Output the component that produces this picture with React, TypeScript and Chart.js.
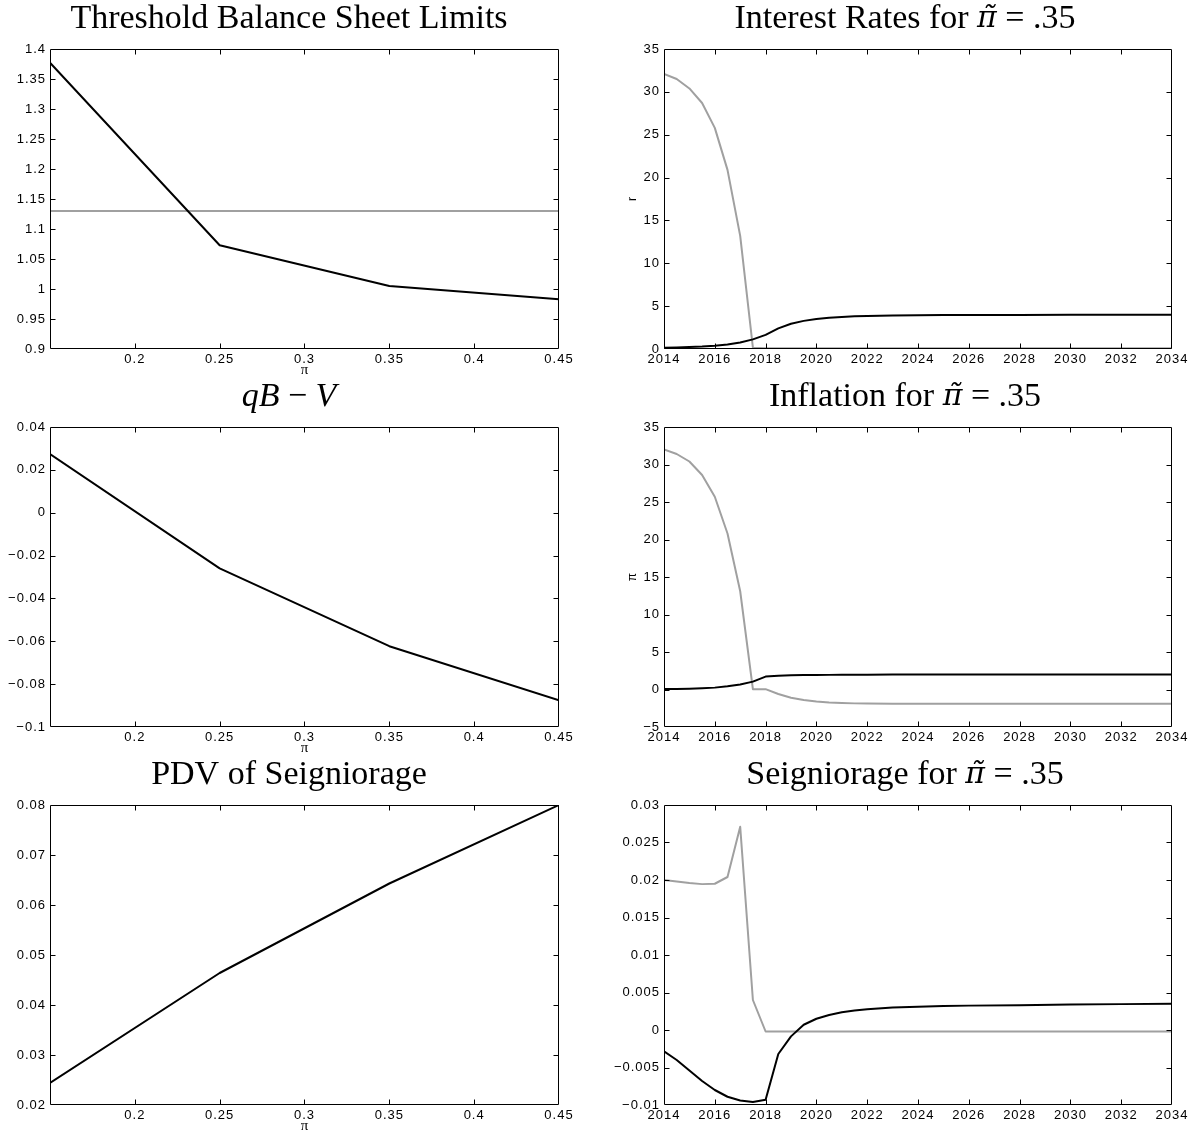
import React, { useEffect, useRef } from 'react';
import { Chart, registerables } from 'chart.js';

Chart.register(...registerables);

// ---------- data ----------
const piGrid = [0.15, 0.25, 0.35, 0.45];
const thresholdLimit = [1.377, 1.073, 1.005, 0.983];
const thresholdRef = [1.13, 1.13, 1.13, 1.13];
const qbMinusV = [0.0274, -0.026, -0.0623, -0.0875];
const pdvSeigniorage = [0.0244, 0.0464, 0.0643, 0.08];

const years = [2014, 2014.5, 2015, 2015.5, 2016, 2016.5, 2017, 2017.5, 2018, 2018.5, 2019, 2019.5, 2020, 2020.5, 2021, 2021.5, 2022, 2023, 2024, 2025, 2026, 2028, 2030, 2032, 2034];
const rateBlack = [0.15, 0.17, 0.22, 0.28, 0.38, 0.52, 0.76, 1.12, 1.65, 2.4, 2.95, 3.28, 3.5, 3.64, 3.74, 3.81, 3.86, 3.92, 3.95, 3.96, 3.97, 3.98, 3.99, 3.99, 4.0];
const rateGrey = [32.1, 31.5, 30.4, 28.7, 25.8, 20.9, 13.2, 0.15, 0.1, 0.1, 0.1, 0.1, 0.1, 0.1, 0.1, 0.1, 0.1, 0.1, 0.1, 0.1, 0.1, 0.1, 0.1, 0.1, 0.1];
const inflBlack = [0.05, 0.07, 0.1, 0.16, 0.25, 0.42, 0.68, 1.05, 1.72, 1.83, 1.89, 1.92, 1.94, 1.95, 1.96, 1.97, 1.98, 1.99, 2.0, 2.0, 2.0, 2.0, 2.0, 2.0, 2.0];
const inflGrey = [32.0, 31.4, 30.4, 28.6, 25.7, 20.8, 13.1, 0.05, 0.05, -0.6, -1.1, -1.4, -1.6, -1.72, -1.8, -1.85, -1.88, -1.9, -1.9, -1.9, -1.9, -1.9, -1.9, -1.9, -1.9];
const seigBlack = [-0.00285, -0.004, -0.0054, -0.0068, -0.008, -0.0089, -0.0094, -0.0096, -0.0093, -0.0032, -0.00085, 0.0007, 0.0015, 0.002, 0.00236, 0.0026, 0.00276, 0.003, 0.0031, 0.0032, 0.00325, 0.0033, 0.0034, 0.00345, 0.0035];
const seigGrey = [0.02, 0.0198, 0.0196, 0.01945, 0.0195, 0.0204, 0.0271, 0.004, -0.0002, -0.0002, -0.0002, -0.0002, -0.0002, -0.0002, -0.0002, -0.0002, -0.0002, -0.0002, -0.0002, -0.0002, -0.0002, -0.0002, -0.0002, -0.0002, -0.0002];

// ---------- tick values ----------
const piTicks = [0.2, 0.25, 0.3, 0.35, 0.4, 0.45];
const yearTicks = [2014, 2016, 2018, 2020, 2022, 2024, 2026, 2028, 2030, 2032, 2034];
const thresholdTicks = [0.9, 0.95, 1, 1.05, 1.1, 1.15, 1.2, 1.25, 1.3, 1.35, 1.4];
const rateTicks = [0, 5, 10, 15, 20, 25, 30, 35];
const qbTicks = [-0.1, -0.08, -0.06, -0.04, -0.02, 0, 0.02, 0.04];
const inflTicks = [-5, 0, 5, 10, 15, 20, 25, 30, 35];
const pdvTicks = [0.02, 0.03, 0.04, 0.05, 0.06, 0.07, 0.08];
const seigTicks = [-0.01, -0.005, 0, 0.005, 0.01, 0.015, 0.02, 0.025, 0.03];

const BLACK = '#000000';
const GREY = '#a0a0a0';

// title text pieces (math parts in italic)
type Seg = { t: string; italic?: boolean; math?: boolean };
const PI_TILDE: Seg = { t: 'π̃', italic: true, math: true };

type Series = { xs: number[]; ys: number[]; color: string };
type Panel = {
  key: string;
  title: Seg[];
  col: number;
  row: number;
  xMin: number;
  xMax: number;
  xTicks: number[];
  yMin: number;
  yMax: number;
  yTicks: number[];
  xTitle?: string;
  yTitle?: string;
  series: Series[];
};

const panels: Panel[] = [
  {
    key: 'tl', title: [{ t: 'Threshold Balance Sheet Limits' }], col: 0, row: 0,
    xMin: 0.15, xMax: 0.45, xTicks: piTicks, yMin: 0.9, yMax: 1.4, yTicks: thresholdTicks,
    xTitle: 'π',
    series: [
      { xs: piGrid, ys: thresholdLimit, color: BLACK },
      { xs: piGrid, ys: thresholdRef, color: GREY },
    ],
  },
  {
    key: 'tr', title: [{ t: 'Interest Rates for ' }, PI_TILDE, { t: ' = .35' }], col: 1, row: 0,
    xMin: 2014, xMax: 2034, xTicks: yearTicks, yMin: 0, yMax: 35, yTicks: rateTicks,
    yTitle: 'r',
    series: [
      { xs: years, ys: rateBlack, color: BLACK },
      { xs: years, ys: rateGrey, color: GREY },
    ],
  },
  {
    key: 'ml', title: [{ t: 'qB', italic: true }, { t: ' − ' }, { t: 'V', italic: true }], col: 0, row: 1,
    xMin: 0.15, xMax: 0.45, xTicks: piTicks, yMin: -0.1, yMax: 0.04, yTicks: qbTicks,
    xTitle: 'π',
    series: [{ xs: piGrid, ys: qbMinusV, color: BLACK }],
  },
  {
    key: 'mr', title: [{ t: 'Inflation for ' }, PI_TILDE, { t: ' = .35' }], col: 1, row: 1,
    xMin: 2014, xMax: 2034, xTicks: yearTicks, yMin: -5, yMax: 35, yTicks: inflTicks,
    yTitle: 'π',
    series: [
      { xs: years, ys: inflBlack, color: BLACK },
      { xs: years, ys: inflGrey, color: GREY },
    ],
  },
  {
    key: 'bl', title: [{ t: 'PDV of Seigniorage' }], col: 0, row: 2,
    xMin: 0.15, xMax: 0.45, xTicks: piTicks, yMin: 0.02, yMax: 0.08, yTicks: pdvTicks,
    xTitle: 'π',
    series: [{ xs: piGrid, ys: pdvSeigniorage, color: BLACK }],
  },
  {
    key: 'br', title: [{ t: 'Seigniorage for ' }, PI_TILDE, { t: ' = .35' }], col: 1, row: 2,
    xMin: 2014, xMax: 2034, xTicks: yearTicks, yMin: -0.01, yMax: 0.03, yTicks: seigTicks,
    series: [
      { xs: years, ys: seigBlack, color: BLACK },
      { xs: years, ys: seigGrey, color: GREY },
    ],
  },
];

// layout per column
const COLS = [
  { left: 0, width: 597, padR: 38, yAxisW: 50, titleCenter: 289, yTitlePad: 0 },
  { left: 597, width: 598, padR: 23, yAxisW: 67, titleCenter: 308, yTitlePad: 30 },
];
const ROW_H = 378;
const TITLE_Y = 19;
const TITLE_SPACE = 49;

const fmt = (v: number) => {
  const s = String(parseFloat(Number(v).toFixed(6)));
  return s.replace('-', '\u2212');
};

const segFont = (s: Seg) =>
  s.math
    ? `italic normal 30px 'DejaVu Serif'`
    : `${s.italic ? 'italic ' : ''}normal 34px 'Liberation Serif'`;

const matlabAxes = {
  id: 'matlabAxes',
  beforeDraw(chart: any, _args: any, opts: any) {
    const ctx = chart.ctx;
    try { ctx.letterSpacing = '0px'; } catch (e) { /* ignore */ }
    const segs: Seg[] = opts.title || [];
    ctx.save();
    ctx.fillStyle = '#000';
    ctx.textBaseline = 'middle';
    ctx.textAlign = 'left';
    const widths = segs.map((s) => {
      ctx.font = segFont(s);
      return ctx.measureText(s.t).width;
    });
    const total = widths.reduce((a, b) => a + b, 0);
    let x = opts.titleCenter - total / 2;
    segs.forEach((s, i) => {
      ctx.font = segFont(s);
      ctx.fillText(s.t, x, TITLE_Y);
      x += widths[i];
    });
    ctx.restore();
  },
  afterDatasetsDraw(chart: any) {
    try { chart.ctx.letterSpacing = '1px'; } catch (e) { /* ignore */ }
  },
  afterDraw(chart: any) {
    const { ctx, chartArea: a, scales } = chart;
    const xs = scales.x;
    const ys = scales.y;
    const L = Math.floor(a.left) + 0.5;
    const R = Math.floor(a.right) - 0.5;
    const T = Math.floor(a.top) + 0.5;
    const B = Math.floor(a.bottom) - 0.5;
    const TL = 5;
    ctx.save();
    ctx.strokeStyle = '#000';
    ctx.lineWidth = 1;
    ctx.beginPath();
    ctx.rect(L, T, R - L, B - T);
    for (const t of xs.ticks) {
      const px = Math.round(xs.getPixelForValue(t.value)) + 0.5;
      if (px <= L + 1 || px >= R - 1) continue;
      ctx.moveTo(px, B);
      ctx.lineTo(px, B - TL);
      ctx.moveTo(px, T);
      ctx.lineTo(px, T + TL);
    }
    for (const t of ys.ticks) {
      const py = Math.round(ys.getPixelForValue(t.value)) + 0.5;
      if (py <= T + 1 || py >= B - 1) continue;
      ctx.moveTo(L, py);
      ctx.lineTo(L + TL, py);
      ctx.moveTo(R, py);
      ctx.lineTo(R - TL, py);
    }
    ctx.stroke();
    ctx.restore();
    try { ctx.letterSpacing = '0px'; } catch (e) { /* ignore */ }
  },
};

function PanelChart({ p }: { p: Panel }) {
  const ref = useRef<HTMLCanvasElement | null>(null);
  const c = COLS[p.col];
  useEffect(() => {
    if (!ref.current) return;
    const tickFont = { family: 'Liberation Sans', size: 13, lineHeight: 1 };
    const chart = new Chart(ref.current, {
      type: 'line',
      data: {
        datasets: p.series.map((s) => ({
          data: s.xs.map((x, i) => ({ x, y: s.ys[i] })),
          borderColor: s.color,
          backgroundColor: s.color,
          borderWidth: 2,
          pointRadius: 0,
          tension: 0,
          fill: false,
          borderJoinStyle: 'round' as const,
        })),
      },
      options: {
        responsive: false,
        animation: false,
        devicePixelRatio: 1,
        events: [],
        layout: { padding: { left: 0, right: c.padR, top: TITLE_SPACE, bottom: 0 } },
        plugins: {
          legend: { display: false },
          tooltip: { enabled: false },
          title: { display: false },
          matlabAxes: { titleCenter: c.titleCenter, title: p.title },
        },
        scales: {
          x: {
            type: 'linear',
            min: p.xMin,
            max: p.xMax,
            grid: { display: false, drawTicks: false },
            border: { display: false },
            ticks: {
              autoSkip: false,
              maxRotation: 0,
              padding: 4,
              z: 1,
              color: '#000',
              font: tickFont,
              callback: (v: any) => fmt(v),
            },
            afterBuildTicks: (s: any) => {
              s.ticks = p.xTicks.map((v) => ({ value: v }));
            },
            afterFit: (s: any) => {
              s.height = 29;
            },
            title: p.xTitle
              ? { display: true, text: p.xTitle, color: '#000', font: { family: 'Liberation Serif', size: 15, lineHeight: 1 }, padding: { top: 0, bottom: 0 } }
              : { display: false },
          },
          y: {
            type: 'linear',
            min: p.yMin,
            max: p.yMax,
            grid: { display: false, drawTicks: false },
            border: { display: false },
            ticks: {
              autoSkip: false,
              padding: 4,
              z: 1,
              color: '#000',
              font: tickFont,
              callback: (v: any) => fmt(v),
            },
            afterBuildTicks: (s: any) => {
              s.ticks = p.yTicks.map((v) => ({ value: v }));
            },
            afterFit: (s: any) => {
              s.width = c.yAxisW;
            },
            title: p.yTitle
              ? { display: true, text: p.yTitle, color: '#000', font: { family: 'Liberation Sans', size: 12, lineHeight: 1 }, padding: { top: c.yTitlePad, bottom: 0 } }
              : { display: false },
          },
        },
      } as any,
      plugins: [matlabAxes],
    });
    return () => chart.destroy();
  }, []);
  return (
    <canvas
      ref={ref}
      width={c.width}
      height={ROW_H}
      style={{ position: 'absolute', left: c.left, top: p.row * ROW_H, width: c.width, height: ROW_H }}
    />
  );
}

export default function App() {
  return (
    <div style={{ position: 'absolute', left: 0, top: 0, width: 1195, height: 1134, background: '#fff' }}>
      {panels.map((p) => (
        <PanelChart key={p.key} p={p} />
      ))}
    </div>
  );
}
